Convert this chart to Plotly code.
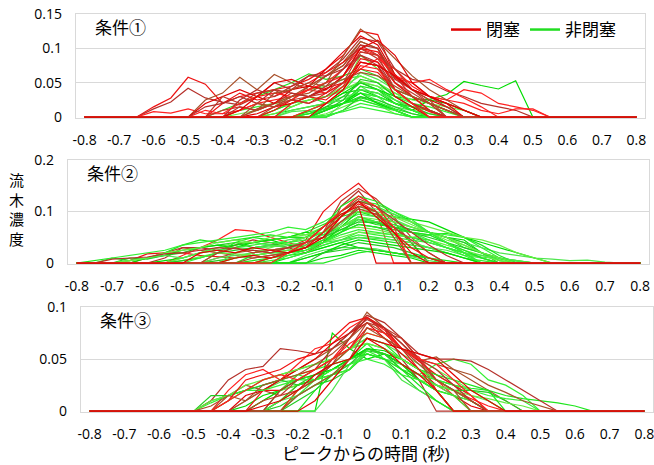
import plotly.graph_objects as go

# time from peak (s)
x_time = [-0.8, -0.75, -0.7, -0.65, -0.6, -0.55, -0.5, -0.45, -0.4, -0.35, -0.3,
          -0.25, -0.2, -0.15, -0.1, -0.05, 0.0, 0.05, 0.1, 0.15, 0.2, 0.25, 0.3,
          0.35, 0.4, 0.45, 0.5, 0.55, 0.6, 0.65, 0.7, 0.75, 0.8]
x_ticks = [-0.8, -0.7, -0.6, -0.5, -0.4, -0.3, -0.2, -0.1, 0, 0.1, 0.2, 0.3, 0.4, 0.5, 0.6, 0.7, 0.8]
x_ticklabels = ["-0.8", "-0.7", "-0.6", "-0.5", "-0.4", "-0.3", "-0.2", "-0.1", "0",
                "0.1", "0.2", "0.3", "0.4", "0.5", "0.6", "0.7", "0.8"]

# each series: (index of first listed point in x_time, values); other points are 0
c1_closed = [
    (3, [0, 0.015, 0.028, 0.058, 0.048, 0.02, 0.03, 0.035, 0.04, 0.045, 0.055, 0.07, 0.09, 0.125, 0.12, 0.06, 0.03, 0.02, 0.01, 0]),
    (3, [0, 0.012, 0.022, 0.042, 0.028, 0.022, 0.018, 0.03, 0.05, 0.04, 0.06, 0.065, 0.085, 0.115, 0.11, 0.07, 0.055, 0.05, 0.038, 0.03, 0.02, 0.015, 0.01, 0]),
    (3, [0, 0.008, 0.006, 0.012, 0.005, 0.005, 0.01, 0.02, 0.025, 0.03, 0.04, 0.05, 0.07, 0.1, 0.09, 0.056, 0.05, 0.03, 0.025, 0.02, 0.01, 0.005, 0.012, 0.012, 0]),
    (6, [0, 0.025, 0.035, 0.058, 0.04, 0.062, 0.05, 0.04, 0.06, 0.08, 0.11, 0.1, 0.05, 0.03, 0.02, 0]),
    (6, [0, 0.02, 0.03, 0.04, 0.03, 0.05, 0.055, 0.045, 0.07, 0.095, 0.118, 0.105, 0.062, 0.04, 0.025, 0.015, 0]),
    (7, [0, 0.03, 0.02, 0.035, 0.04, 0.025, 0.045, 0.06, 0.075, 0.105, 0.09, 0.04, 0.03, 0.01, 0]),
    (7, [0, 0.02, 0.035, 0.025, 0.03, 0.04, 0.05, 0.065, 0.08, 0.1, 0.095, 0.058, 0.04, 0.03, 0.02, 0.01, 0]),
    (8, [0, 0.015, 0.01, 0.02, 0.035, 0.03, 0.04, 0.06, 0.09, 0.08, 0.04, 0.02, 0]),
    (8, [0, 0.01, 0.02, 0.015, 0.025, 0.04, 0.035, 0.05, 0.07, 0.085, 0.07, 0.045, 0.03, 0.025, 0.04, 0.035, 0.02, 0.015, 0.01, 0]),
    (9, [0, 0.012, 0.02, 0.03, 0.045, 0.06, 0.075, 0.11, 0.1, 0.06, 0.04, 0.025, 0]),
    (9, [0, 0.005, 0.015, 0.02, 0.03, 0.042, 0.05, 0.08, 0.075, 0.03, 0.015, 0]),
    (7, [0, 0.01, 0.015, 0.01, 0.02, 0.025, 0.03, 0.035, 0.06, 0.1, 0.085, 0.05, 0.035, 0.02, 0.01, 0]),
    (10, [0, 0.01, 0.025, 0.02, 0.035, 0.05, 0.07, 0.065, 0.04, 0.02, 0.008, 0]),
    (8, [0, 0.025, 0.04, 0.03, 0.045, 0.06, 0.06, 0.07, 0.105, 0.1, 0.055, 0.04, 0.03, 0.015, 0]),
    (6, [0, 0.01, 0.005, 0.02, 0.03, 0.035, 0.03, 0.04, 0.05, 0.06, 0.095, 0.09, 0.06, 0.05, 0.055, 0.04, 0.028, 0.015, 0]),
    (9, [0, 0.02, 0.015, 0.03, 0.035, 0.05, 0.09, 0.128, 0.11, 0.085, 0.06, 0.04, 0.025, 0.01, 0]),
    (8, [0, 0.01, 0.03, 0.02, 0.04, 0.045, 0.04, 0.06, 0.1, 0.112, 0.09, 0.05, 0.03, 0.02, 0]),
    (10, [0, 0.015, 0.025, 0.02, 0.03, 0.05, 0.095, 0.09, 0.07, 0.04, 0.02, 0]),
    (11, [0, 0.02, 0.03, 0.025, 0.045, 0.085, 0.08, 0.05, 0.03, 0.01, 0]),
    (6, [0, 0.015, 0.02, 0.03, 0.02, 0.04, 0.035, 0.03, 0.045, 0.07, 0.09, 0.075, 0.04, 0.02, 0.01, 0]),
    (12, [0, 0.01, 0.02, 0.04, 0.075, 0.07, 0.04, 0.02, 0]),
    (9, [0, 0.01, 0.035, 0.04, 0.05, 0.045, 0.055, 0.065, 0.06, 0.045, 0.03, 0.02, 0.01, 0]),
    (13, [0, 0.02, 0.04, 0.08, 0.075, 0.06, 0.04, 0.03, 0.02, 0.01, 0]),
]
c1_open = [
    (7, [0, 0.01, 0.02, 0.03, 0.04, 0.05, 0.063, 0.055, 0.06, 0.07, 0.06, 0.04, 0.03, 0.02, 0.01, 0]),
    (10, [0, 0.01, 0.02, 0.025, 0.03, 0.04, 0.05, 0.045, 0.025, 0.015, 0.01, 0]),
    (10, [0, 0.005, 0.01, 0.015, 0.02, 0.035, 0.04, 0.03, 0.02, 0.01, 0]),
    (11, [0, 0.01, 0.015, 0.02, 0.03, 0.035, 0.025, 0.015, 0.01, 0.005, 0]),
    (12, [0, 0.005, 0.015, 0.02, 0.03, 0.02, 0.01, 0]),
    (13, [0, 0.005, 0.015, 0.025, 0.018, 0.005, 0]),
    (12, [0, 0.008, 0.012, 0.02, 0.028, 0.022, 0.012, 0.005, 0]),
    (8, [0, 0.01, 0.015, 0.02, 0.03, 0.04, 0.045, 0.055, 0.06, 0.05, 0.03, 0.02, 0.015, 0.008, 0]),
    (12, [0, 0.01, 0.02, 0.035, 0.05, 0.04, 0.03, 0.026, 0.026, 0.033, 0.052, 0.046, 0.041, 0.053, 0]),
    (14, [0, 0.02, 0.045, 0.03, 0.01, 0]),
    (13, [0, 0.015, 0.03, 0.05, 0.04, 0.02, 0.015, 0.01, 0]),
    (10, [0, 0.005, 0.015, 0.025, 0.03, 0.045, 0.06, 0.05, 0.035, 0.025, 0.02, 0.015, 0.01, 0]),
    (10, [0, 0.01, 0.02, 0.03, 0.02, 0.025, 0.035, 0.03, 0.02, 0.01, 0]),
    (13, [0, 0.003, 0.008, 0.015, 0.01, 0.005, 0]),
    (13, [0, 0.01, 0.02, 0.04, 0.035, 0.02, 0.01, 0.025, 0.02, 0.01, 0]),
    (11, [0, 0.015, 0.025, 0.03, 0.038, 0.065, 0.055, 0.04, 0.03, 0.02, 0.01, 0]),
    (14, [0, 0.01, 0.03, 0.025, 0.015, 0.005, 0]),
    (8, [0, 0.005, 0.01, 0.02, 0.015, 0.025, 0.03, 0.04, 0.052, 0.045, 0.035, 0.02, 0.01, 0]),
    (13, [0, 0.01, 0.02, 0.045, 0.04, 0.025, 0.01, 0]),
    (12, [0, 0.005, 0.01, 0.02, 0.035, 0.03, 0.02, 0.01, 0]),
    (13, [0, 0.01, 0.02, 0.035, 0.02, 0.01, 0]),
    (11, [0, 0.008, 0.01, 0.02, 0.025, 0.04, 0.035, 0.025, 0.015, 0.01, 0]),
    (13, [0, 0.01, 0.025, 0.055, 0.05, 0.03, 0.015, 0.005, 0]),
    (13, [0, 0.02, 0.04, 0.09, 0.07, 0.04, 0.02, 0.01, 0]),
    (12, [0, 0.005, 0.012, 0.02, 0.025, 0.018, 0.01, 0]),
    (14, [0, 0.01, 0.02, 0.015, 0.01, 0]),
]

c2_closed = [
    (3, [0, 0.01, 0.02, 0.03, 0.025, 0.02, 0.015, 0.01, 0.015, 0.02, 0.03, 0.06, 0.12, 0.145, 0.125, 0.09, 0.05, 0.02, 0]),
    (2, [0, 0.005, 0.018, 0.02, 0.02, 0.015, 0.012, 0.01, 0.02, 0.025, 0.03, 0.045, 0.1, 0.13, 0.155, 0.12, 0.06, 0]),
    (4, [0, 0.01, 0.03, 0.03, 0.025, 0.035, 0.045, 0.04, 0.03, 0.02, 0.04, 0.11, 0.14, 0.1, 0.07, 0.04, 0]),
    (5, [0, 0.015, 0.03, 0.045, 0.065, 0.062, 0.05, 0.04, 0.03, 0.045, 0.09, 0.12, 0.1, 0]),
    (7, [0, 0.01, 0.02, 0.025, 0.02, 0.03, 0.035, 0.06, 0.1, 0.125, 0.11, 0.08, 0.04, 0]),
    (8, [0, 0.01, 0.015, 0.01, 0.02, 0.04, 0.07, 0.095, 0.11, 0]),
    (7, [0, 0.02, 0.03, 0.02, 0.025, 0.03, 0.04, 0.05, 0.08, 0.105, 0.095, 0.07, 0.045, 0.02, 0]),
    (10, [0, 0.01, 0.02, 0.03, 0.06, 0.09, 0.115, 0.1, 0.06, 0.03, 0.01, 0]),
    (1, [0, 0.008, 0.01, 0.012, 0.018, 0.02, 0.025, 0.03, 0.028, 0.025, 0.02, 0.03, 0.04, 0.07, 0.1, 0.12, 0.11, 0.085, 0.06, 0.035, 0.015, 0]),
    (11, [0, 0.02, 0.04, 0.07, 0.1, 0.13, 0.11, 0.07, 0]),
    (9, [0, 0.01, 0.015, 0.02, 0.03, 0.05, 0.08, 0.11, 0.1, 0.05, 0]),
    (6, [0, 0.02, 0.025, 0.02, 0.03, 0.025, 0.02, 0.03, 0.05, 0.09, 0.12, 0.09, 0.06, 0.02, 0]),
]
c2_open = [
    (0, [0, 0.005, 0.01, 0.005, 0.01, 0.02, 0.035, 0.045, 0.04, 0.045, 0.05, 0.055, 0.05, 0.06, 0.075, 0.09, 0.1, 0.09, 0.08, 0.07, 0.06, 0.05, 0.03, 0.02, 0.01, 0.005, 0]),
    (1, [0, 0.01, 0.015, 0.02, 0.025, 0.035, 0.04, 0.045, 0.05, 0.055, 0.06, 0.07, 0.065, 0.08, 0.1, 0.12, 0.11, 0.095, 0.08, 0.06, 0.055, 0.05, 0.03, 0.01, 0]),
    (4, [0, 0.005, 0.01, 0.02, 0.03, 0.035, 0.04, 0.045, 0.05, 0.06, 0.055, 0.07, 0.085, 0.075, 0.07, 0.065, 0.06, 0.05, 0.045, 0.02, 0.005, 0]),
    (5, [0, 0.01, 0.02, 0.025, 0.03, 0.04, 0.035, 0.045, 0.05, 0.06, 0.08, 0.095, 0.09, 0.085, 0.07, 0.06, 0.05, 0.04, 0.03, 0.02, 0.015, 0.01, 0.008, 0.005, 0.006, 0.002, 0]),
    (7, [0, 0.005, 0.01, 0.015, 0.02, 0.025, 0.03, 0.04, 0.06, 0.075, 0.07, 0.06, 0.05, 0.04, 0.03, 0.02, 0.01, 0]),
    (8, [0, 0.01, 0.02, 0.025, 0.02, 0.03, 0.045, 0.065, 0.07, 0.065, 0.058, 0.05, 0.055, 0.04, 0.02, 0.01, 0]),
    (9, [0, 0.005, 0.01, 0.015, 0.02, 0.03, 0.04, 0.05, 0.045, 0.04, 0.035, 0.03, 0.02, 0.01, 0]),
    (10, [0, 0.01, 0.02, 0.025, 0.035, 0.045, 0.055, 0.05, 0.045, 0.04, 0.03, 0.02, 0.01, 0.005, 0]),
    (11, [0, 0.01, 0.02, 0.03, 0.04, 0.03, 0.025, 0.02, 0.015, 0.01, 0]),
    (12, [0, 0.015, 0.025, 0.03, 0.03, 0.028, 0.02, 0.012, 0.005, 0]),
    (2, [0, 0.01, 0.008, 0.015, 0.02, 0.03, 0.035, 0.04, 0.03, 0.035, 0.04, 0.05, 0.06, 0.07, 0.09, 0.08, 0.075, 0.065, 0.06, 0.05, 0.04, 0.02, 0]),
    (5, [0, 0.01, 0.02, 0.03, 0.04, 0.04, 0.045, 0.05, 0.055, 0.07, 0.095, 0.105, 0.1, 0.09, 0.075, 0.06, 0.05, 0.035, 0.02, 0.01, 0.005, 0]),
    (9, [0, 0.015, 0.02, 0.02, 0.025, 0.04, 0.06, 0.085, 0.08, 0.07, 0.06, 0.055, 0.058, 0.05, 0.035, 0.015, 0]),
    (10, [0, 0.005, 0.01, 0.02, 0.035, 0.045, 0.06, 0.055, 0.05, 0.045, 0.04, 0.03, 0.02, 0.012, 0.008, 0.005, 0]),
    (3, [0, 0.01, 0.015, 0.025, 0.03, 0.035, 0.03, 0.04, 0.045, 0.035, 0.03, 0.04, 0.07, 0.1, 0.095, 0.09, 0.085, 0.08, 0.065, 0.05, 0.04, 0.03, 0.02, 0.01, 0]),
    (7, [0, 0.01, 0.015, 0.02, 0.025, 0.03, 0.035, 0.04, 0.045, 0.05, 0.048, 0.045, 0.04, 0.03, 0.025, 0.015, 0.01, 0]),
    (12, [0, 0.01, 0.02, 0.025, 0.03, 0.025, 0.02, 0.015, 0.01, 0]),
    (5, [0, 0.005, 0.012, 0.02, 0.018, 0.015, 0.02, 0.025, 0.03, 0.04, 0.05, 0.06, 0.058, 0.055, 0.05, 0.045, 0.035, 0.025, 0.015, 0.005, 0]),
    (7, [0, 0.02, 0.04, 0.05, 0.045, 0.05, 0.05, 0.07, 0.11, 0.13, 0.12, 0.1, 0.08, 0.06, 0.04, 0.02, 0]),
    (11, [0, 0.02, 0.03, 0.04, 0.06, 0.09, 0.08, 0.075, 0.06, 0.045, 0.03, 0.015, 0]),
    (13, [0, 0.01, 0.015, 0.025, 0.02, 0.015, 0.01, 0]),
    (2, [0, 0.005, 0.01, 0.015, 0.01, 0.02, 0.025, 0.03, 0.028, 0.032, 0.035, 0.04, 0.05, 0.07, 0.085, 0.08, 0.07, 0.06, 0.04, 0.03, 0.02, 0.015, 0.01, 0.005, 0]),
    (5, [0, 0.005, 0.01, 0.02, 0.025, 0.03, 0.035, 0.03, 0.04, 0.05, 0.065, 0.08, 0.078, 0.07, 0.06, 0.05, 0.04, 0.03, 0.02, 0.01, 0]),
    (8, [0, 0.01, 0.02, 0.03, 0.04, 0.05, 0.06, 0.07, 0.09, 0.085, 0.08, 0.07, 0.06, 0.045, 0.035, 0.02, 0.01, 0]),
    (10, [0, 0.01, 0.02, 0.03, 0.045, 0.06, 0.075, 0.07, 0.065, 0.06, 0.055, 0.04, 0.025, 0.01, 0]),
    (11, [0, 0.015, 0.025, 0.04, 0.055, 0.065, 0.06, 0.055, 0.05, 0.045, 0.03, 0.02, 0]),
    (12, [0, 0.01, 0.02, 0.035, 0.045, 0.04, 0.035, 0.03, 0.025, 0.02, 0.01, 0]),
    (8, [0, 0.02, 0.03, 0.035, 0.03, 0.04, 0.055, 0.075, 0.11, 0.105, 0.095, 0.08, 0.06, 0.04, 0.02, 0]),
    (13, [0, 0.02, 0.03, 0.04, 0.035, 0.03, 0.02, 0.01, 0]),
    (2, [0, 0.005, 0.01, 0.02, 0.025, 0.03, 0.04, 0.045, 0.04, 0.05, 0.06, 0.055, 0.06, 0.08, 0.1, 0.095, 0.09, 0.08, 0.07, 0.06, 0.05, 0.045, 0.035, 0.02, 0.01, 0]),
    (14, [0, 0.01, 0.02, 0.025, 0.02, 0.015, 0.01, 0.005, 0]),
    (6, [0, 0.01, 0.02, 0.03, 0.035, 0.04, 0.04, 0.045, 0.06, 0.09, 0.12, 0.115, 0.1, 0.085, 0.06, 0.04, 0.02, 0]),
]

c3_closed = [
    (6, [0, 0.01, 0.03, 0.04, 0.043, 0.06, 0.058, 0.055, 0.06, 0.075, 0.092, 0.085, 0.07, 0.055, 0.05, 0.05, 0.048, 0.04, 0.03, 0.02, 0.01, 0]),
    (7, [0, 0.02, 0.035, 0.04, 0.03, 0.045, 0.06, 0.065, 0.08, 0.09, 0.078, 0.06, 0.05, 0.03, 0.015, 0]),
    (7, [0, 0.015, 0.025, 0.02, 0.03, 0.04, 0.05, 0.06, 0.07, 0.095, 0.08, 0.065, 0.048, 0.052, 0.04, 0.03, 0.02, 0.01, 0]),
    (8, [0, 0.015, 0.02, 0.03, 0.04, 0.05, 0.065, 0.075, 0.085, 0.07, 0.055, 0.04, 0.025, 0.015, 0.005, 0]),
    (8, [0, 0.01, 0.02, 0.015, 0.03, 0.035, 0.045, 0.06, 0.08, 0.075, 0.07, 0.05, 0.02, 0]),
    (9, [0, 0.02, 0.02, 0.035, 0.04, 0.05, 0.07, 0.09, 0.075, 0.06, 0.048, 0.035, 0.025, 0.015, 0]),
    (10, [0, 0.01, 0.025, 0.03, 0.045, 0.07, 0.09, 0.08, 0.05, 0.03, 0]),
    (11, [0, 0.02, 0.03, 0.05, 0.065, 0.075, 0.07, 0.06, 0.052, 0.03, 0.02, 0.012, 0.005, 0]),
    (6, [0, 0.005, 0.015, 0.01, 0.025, 0.03, 0.035, 0.045, 0.055, 0.07, 0.085, 0.075, 0.06, 0.05, 0.045, 0.04, 0.035, 0.025, 0.018, 0.01, 0.005, 0]),
    (12, [0, 0.01, 0.03, 0.05, 0.07, 0.06, 0.045, 0.035, 0.02, 0]),
    (9, [0, 0.01, 0.015, 0.02, 0.03, 0.05, 0.06, 0.085, 0.08, 0.07, 0.05, 0.03, 0.02, 0.01, 0]),
    (7, [0, 0.01, 0.03, 0.035, 0.04, 0.05, 0.055, 0.07, 0.085, 0.09, 0.08, 0.06, 0.04, 0.02, 0]),
    (10, [0, 0.02, 0.03, 0.04, 0.06, 0.075, 0.088, 0.08, 0.065, 0.05, 0.04, 0.025, 0.01, 0]),
    (7, [0, 0.01, 0.02, 0.03, 0.035, 0.03, 0.04, 0.05, 0.06, 0.08, 0.075, 0.06, 0.05, 0.045, 0.03, 0.015, 0]),
    (11, [0, 0.015, 0.025, 0.035, 0.05, 0.08, 0.07, 0.06, 0.045, 0.03, 0.02, 0]),
    (9, [0, 0.005, 0.01, 0.02, 0.035, 0.045, 0.05, 0.07, 0.065, 0.06, 0.055, 0.05, 0.035, 0.02, 0.01, 0]),
]
c3_open = [
    (6, [0, 0.01, 0.015, 0.02, 0.03, 0.035, 0.04, 0.045, 0.05, 0.06, 0.07, 0.065, 0.05, 0.04, 0.03, 0.025, 0.022, 0.02, 0.015, 0.012, 0.01, 0.008, 0.005, 0]),
    (7, [0, 0.01, 0.02, 0.025, 0.03, 0.035, 0.04, 0.045, 0.05, 0.06, 0.055, 0.045, 0.035, 0.025, 0.02, 0.01, 0]),
    (8, [0, 0.005, 0.015, 0.02, 0.025, 0.03, 0.035, 0.04, 0.06, 0.055, 0.05, 0.04, 0.03, 0.02, 0.01, 0]),
    (8, [0, 0.01, 0.02, 0.028, 0.03, 0.04, 0.05, 0.06, 0.07, 0.065, 0.055, 0.045, 0.035, 0.025, 0.015, 0.01, 0]),
    (10, [0, 0.005, 0.015, 0.025, 0.03, 0.04, 0.055, 0.05, 0.035, 0.02, 0.01, 0]),
    (9, [0, 0.01, 0.02, 0.025, 0.03, 0.045, 0.06, 0.075, 0.07, 0.06, 0.05, 0.04, 0.03, 0.02, 0.01, 0]),
    (11, [0, 0.02, 0.03, 0.04, 0.05, 0.06, 0.055, 0.045, 0.03, 0.02, 0]),
    (11, [0, 0.015, 0.03, 0.045, 0.06, 0.065, 0.05, 0.04, 0.035, 0.045, 0.05, 0.045, 0.03, 0.025, 0.015, 0]),
    (13, [0, 0.075, 0.06, 0.05, 0.055, 0.045, 0.03, 0.02, 0.015, 0.01, 0]),
    (13, [0, 0.02, 0.045, 0.055, 0.05, 0.03, 0.02, 0.01, 0]),
    (6, [0, 0.015, 0.015, 0.02, 0.025, 0.03, 0.025, 0.035, 0.04, 0.05, 0.058, 0.055, 0.045, 0.035, 0.025, 0.02, 0.02, 0.018, 0.01, 0]),
    (10, [0, 0.01, 0.02, 0.03, 0.035, 0.04, 0.06, 0.055, 0.04, 0.03, 0.025, 0.02, 0.015, 0.012, 0.008, 0.005, 0]),
    (10, [0, 0.01, 0.025, 0.03, 0.04, 0.05, 0.065, 0.06, 0.05, 0.04, 0.035, 0.03, 0.025, 0.02, 0]),
    (6, [0, 0.008, 0.015, 0.02, 0.02, 0.025, 0.03, 0.03, 0.035, 0.04, 0.058, 0.05, 0.045, 0.035, 0.03, 0.025, 0.02, 0.015, 0.012, 0.01, 0]),
    (9, [0, 0.01, 0.02, 0.03, 0.035, 0.04, 0.05, 0.06, 0.058, 0.05, 0.04, 0.03, 0.02, 0.01, 0]),
    (10, [0, 0.01, 0.015, 0.025, 0.035, 0.045, 0.055, 0.05, 0.045, 0.035, 0.025, 0.015, 0.01, 0]),
    (11, [0, 0.01, 0.02, 0.035, 0.045, 0.06, 0.055, 0.04, 0.03, 0.02, 0]),
    (6, [0, 0.01, 0.015, 0.025, 0.03, 0.035, 0.04, 0.045, 0.05, 0.06, 0.065, 0.06, 0.05, 0.04, 0.03, 0.02, 0.01, 0]),
    (12, [0, 0.02, 0.035, 0.05, 0.055, 0.05, 0.04, 0.025, 0.01, 0]),
    (10, [0, 0.02, 0.035, 0.03, 0.04, 0.045, 0.05, 0.045, 0.035, 0.03, 0.02, 0.015, 0]),
]

panel_titles = ["条件①", "条件②", "条件③"]
y_ranges = [[-0.0012, 0.15], [-0.0016, 0.2], [-0.0008, 0.1]]
y_ticks = [[0, 0.05, 0.1, 0.15], [0, 0.1, 0.2], [0, 0.05, 0.1]]
y_ticklabels = [["0", "0.05", "0.1", "0.15"], ["0", "0.1", "0.2"], ["0", "0.05", "0.1"]]
legend_names = ["閉塞", "非閉塞"]
x_title = "ピークからの時間 (秒)"
y_title = "流木濃度"

red_shades = ["#C0392B", "#EE1111", "#B5302A", "#FF2020", "#A8502A", "#E00000"]
green_shades = ["#1EE61E", "#33F033", "#00DD00", "#4DE64D", "#22CC22", "#66EE44"]

FONT = "Open Sans, Noto Sans CJK JP, sans-serif"
W, H = 654, 465

# panel pixel boxes: left, right, top, bottom
boxes = [(76, 645, 14, 118), (68, 649, 160, 264), (81, 653, 307, 412)]


def full_series(start, vals):
    y = [0.0] * len(x_time)
    y[start:start + len(vals)] = vals
    return y


fig = go.Figure()
panels = [(c1_closed, c1_open), (c2_closed, c2_open), (c3_closed, c3_open)]
for p, (closed, opened) in enumerate(panels):
    xa = "x" if p == 0 else f"x{p+1}"
    ya = "y" if p == 0 else f"y{p+1}"
    if p == 1:
        order = ([("r", s) for s in closed[:5]] + [("g", s) for s in opened[:16]]
                 + [("g", s) for s in opened[16:]] + [("r", s) for s in closed[5:]])
    elif p == 2:
        order = ([("g", s) for s in opened[:10]] + [("r", s) for s in closed[:8]]
                 + [("g", s) for s in opened[10:]] + [("r", s) for s in closed[8:]])
    else:
        order = [("g", s) for s in opened] + [("r", s) for s in closed]
    n_red = sum(1 for k, _ in order if k == "r")
    ri = gi = 0
    for kind, (st, vals) in order:
        if kind == "r":
            col = red_shades[(ri - n_red) % len(red_shades)]
            ri += 1
            name = legend_names[0]
        else:
            col = green_shades[gi % len(green_shades)]
            gi += 1
            name = legend_names[1]
        fig.add_trace(go.Scatter(
            x=x_time, y=full_series(st, vals), mode="lines",
            line=dict(color=col, width=1.2), xaxis=xa, yaxis=ya,
            name=name, showlegend=False, hoverinfo="skip"))

# legend entries
fig.add_trace(go.Scatter(x=[None], y=[None], mode="lines", line=dict(color="#E00000", width=2.5),
                         name=legend_names[0], showlegend=True))
fig.add_trace(go.Scatter(x=[None], y=[None], mode="lines", line=dict(color="#22DD22", width=2.5),
                         name=legend_names[1], showlegend=True))

layout = dict(
    width=W, height=H, margin=dict(l=0, r=0, t=0, b=0),
    paper_bgcolor="white", plot_bgcolor="white",
    font=dict(family=FONT, size=14, color="#000000"),
    showlegend=True,
    legend=dict(orientation="h", x=446 / W, y=1 - 12 / H, xanchor="left", yanchor="top",
                font=dict(size=17, family=FONT), bgcolor="rgba(0,0,0,0)",
                itemwidth=30, tracegroupgap=0),
)
annotations = []
for p, (l, r, t, b) in enumerate(boxes):
    sfx = "" if p == 0 else str(p + 1)
    layout["xaxis" + sfx] = dict(
        domain=[l / W, r / W], anchor="y" + sfx, range=[-0.825, 0.825],
        tickmode="array", tickvals=x_ticks, ticktext=x_ticklabels,
        showgrid=False, zeroline=False, showline=True, linecolor="#D9D9D9", linewidth=1.3,
        mirror=True, ticks="outside", ticklen=9, tickcolor="rgba(0,0,0,0)",
        ticklabeloverflow="allow", layer="below traces",
        tickfont=dict(size=14, family=FONT), automargin=False, fixedrange=True)
    layout["yaxis" + sfx] = dict(
        domain=[1 - b / H, 1 - t / H], anchor="x" + sfx, range=y_ranges[p],
        tickmode="array", tickvals=y_ticks[p], ticktext=y_ticklabels[p],
        showgrid=True, gridcolor="#D9D9D9", gridwidth=1.3, zeroline=False,
        showline=True, linecolor="#D9D9D9", linewidth=1.3, mirror=True,
        ticks="outside", ticklen=10, tickcolor="rgba(0,0,0,0)", layer="below traces",
        tickfont=dict(size=14, family=FONT), automargin=False, fixedrange=True)
    annotations.append(dict(text=panel_titles[p], xref="paper", yref="paper",
                            x=(l + 17) / W, y=1 - (t + 13) / H, xanchor="left", yanchor="middle",
                            showarrow=False, font=dict(size=17, family=FONT)))

annotations.append(dict(text=x_title, xref="paper", yref="paper", x=365 / W, y=1 - 453 / H,
                        xanchor="center", yanchor="middle", showarrow=False,
                        font=dict(size=17, family=FONT)))
annotations.append(dict(text="<br>".join(list(y_title)), xref="paper", yref="paper",
                        x=16 / W, y=1 - 209 / H, xanchor="center", yanchor="middle",
                        showarrow=False, font=dict(size=15, family=FONT)))
layout["annotations"] = annotations
fig.update_layout(**layout)

fig.write_html("out.html", config={"displayModeBar": False},
               post_script="document.body.style.margin='0';document.body.style.overflow='hidden';")
